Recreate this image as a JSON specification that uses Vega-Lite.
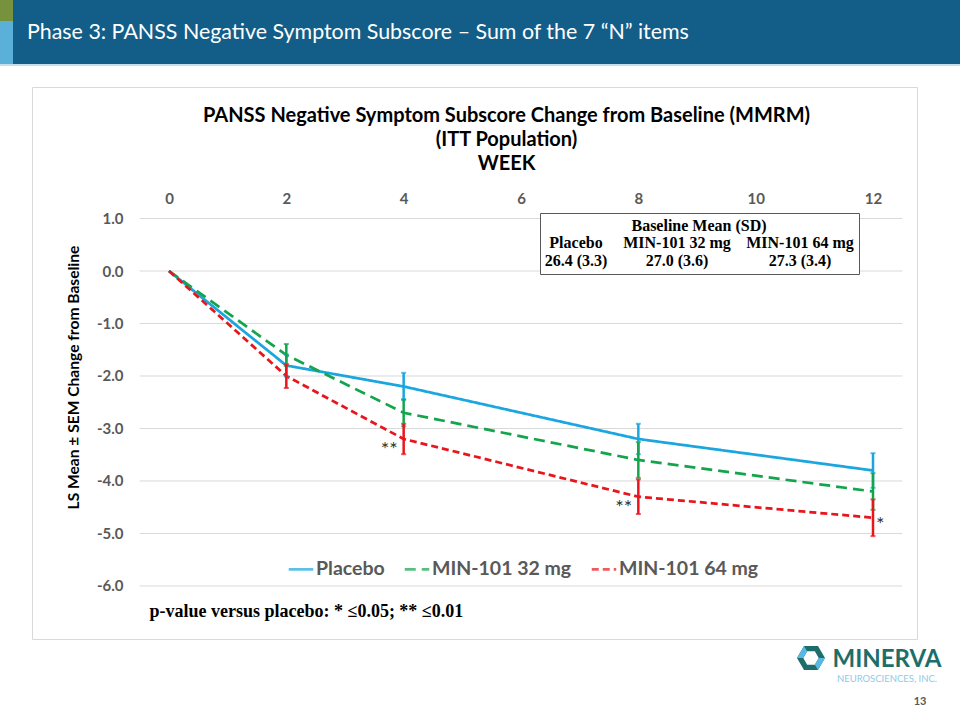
{
  "$schema": "https://vega.github.io/schema/vega-lite/v6.json",
  "background": "white",
  "padding": 0,
  "spacing": 0,
  "config": {"view": {"stroke": null}, "font": "Lato"},
  "datasets": {
    "series": [
      {"grp": "Placebo", "week": 0, "mean": 0, "sem": 0, "sig": ""},
      {"grp": "Placebo", "week": 2, "mean": -1.8, "sem": 0.21, "sig": ""},
      {"grp": "Placebo", "week": 4, "mean": -2.2, "sem": 0.26, "sig": ""},
      {"grp": "Placebo", "week": 8, "mean": -3.2, "sem": 0.29, "sig": ""},
      {"grp": "Placebo", "week": 12, "mean": -3.8, "sem": 0.33, "sig": ""},
      {"grp": "MIN-101 32 mg", "week": 0, "mean": 0, "sem": 0, "sig": ""},
      {"grp": "MIN-101 32 mg", "week": 2, "mean": -1.6, "sem": 0.21, "sig": ""},
      {"grp": "MIN-101 32 mg", "week": 4, "mean": -2.7, "sem": 0.26, "sig": ""},
      {"grp": "MIN-101 32 mg", "week": 8, "mean": -3.6, "sem": 0.34, "sig": ""},
      {"grp": "MIN-101 32 mg", "week": 12, "mean": -4.2, "sem": 0.35, "sig": ""},
      {"grp": "MIN-101 64 mg", "week": 0, "mean": 0, "sem": 0, "sig": ""},
      {"grp": "MIN-101 64 mg", "week": 2, "mean": -2.0, "sem": 0.23, "sig": ""},
      {"grp": "MIN-101 64 mg", "week": 4, "mean": -3.2, "sem": 0.29, "sig": "**"},
      {"grp": "MIN-101 64 mg", "week": 8, "mean": -4.3, "sem": 0.33, "sig": "**"},
      {"grp": "MIN-101 64 mg", "week": 12, "mean": -4.7, "sem": 0.35, "sig": "*"}
    ],
    "grid": [{"g": 1}, {"g": 0}, {"g": -1}, {"g": -2}, {"g": -3}, {"g": -4}, {"g": -5}, {"g": -6}],
    "table": [
      {"tbl": "Placebo|26.4 (3.3)"},
      {"tbl": "MIN-101 32 mg|27.0 (3.6)"},
      {"tbl": "MIN-101 64 mg|27.3 (3.4)"}
    ]
  },
  "vconcat": [
    {
      "spacing": 0,
      "hconcat": [
        {
          "spacing": 0,
          "vconcat": [
            {"width": 13, "height": 21, "data": {"values": []}, "mark": "point", "view": {"fill": "#76923c", "stroke": null}},
            {"width": 13, "height": 43, "data": {"values": []}, "mark": "point", "view": {"fill": "#5bb0da", "stroke": null}}
          ]
        },
        {
          "width": 947, "height": 64,
          "data": {"values": []},
          "mark": "point",
          "view": {"fill": "#135e88", "stroke": null},
          "title": {
            "text": "Phase 3: PANSS Negative Symptom Subscore – Sum of the 7 “N” items",
            "anchor": "start", "frame": "group", "dx": 14, "offset": -54,
            "baseline": "middle", "color": "white", "font": "Lato", "fontSize": 21.4, "fontWeight": "normal"
          }
        }
      ]
    },
    {"width": 960, "height": 2, "data": {"values": []}, "mark": "point", "view": {"fill": "#c5dfee", "stroke": null}},
    {"width": 960, "height": 20, "data": {"values": []}, "mark": "point"},
    {
      "spacing": 0,
      "hconcat": [
        {"width": 31, "height": 552, "data": {"values": []}, "mark": "point"},
        {
          "width": 885, "height": 552,
          "view": {"fill": "white", "stroke": "#d9d9d9", "strokeWidth": 1},
          "resolve": {"axis": {"x": "independent"}},
          "layer": [
            {
              "data": {"name": "grid"},
              "mark": {"type": "rule", "color": "#d9d9d9", "strokeWidth": 1},
              "encoding": {
                "x": {"datum": -0.5, "type": "quantitative", "scale": {"domain": [-2.335, 12.75], "nice": false, "zero": false}, "axis": null},
                "x2": {"datum": 12.5},
                "y": {
                  "field": "g", "type": "quantitative", "title": "LS Mean ± SEM Change from Baseline",
                  "scale": {"domain": [-7.01, 3.505], "nice": false, "zero": false},
                  "axis": {
                    "orient": "left", "offset": -91, "values": [1, 0, -1, -2, -3, -4, -5, -6],
                    "labelExpr": "replace(format(datum.value, '.1f'), '−', '-')",
                    "labelFont": "Lato", "labelFontSize": 15, "labelFontWeight": "bold", "labelColor": "#595959",
                    "labelPadding": 0, "ticks": false, "tickSize": 0, "domain": false, "grid": false,
                    "title": "LS Mean ± SEM Change from Baseline",
                    "titleX": -50, "titleY": 290, "titleAngle": -90, "titleAlign": "center", "titleBaseline": "middle",
                    "titleFont": "Lato", "titleFontSize": 15.6, "titleFontWeight": "bold", "titleColor": "black"
                  }
                }
              }
            },
            {
              "data": {"name": "series"},
              "mark": {"type": "line", "strokeWidth": 2.75},
              "encoding": {
                "x": {
                  "field": "week", "type": "quantitative",
                  "scale": {"domain": [-2.335, 12.75], "nice": false, "zero": false},
                  "axis": {
                    "orient": "top", "offset": -111, "values": [0, 2, 4, 6, 8, 10, 12],
                    "labelFont": "Lato", "labelFontSize": 15, "labelFontWeight": "bold", "labelColor": "#595959",
                    "labelPadding": 0, "labelBaseline": "middle", "labelFlush": false,
                    "ticks": false, "tickSize": 0, "domain": false, "grid": false,
                    "title": ["PANSS Negative Symptom Subscore Change from Baseline (MMRM)", "(ITT Population)", "WEEK"],
                    "titleX": 474, "titleY": -93, "titleAlign": "center", "titleBaseline": "top", "titleLineHeight": 24,
                    "titleFont": "Lato", "titleFontSize": 20, "titleFontWeight": "bold", "titleColor": "black"
                  }
                },
                "y": {"field": "mean", "type": "quantitative", "title": "LS Mean ± SEM Change from Baseline", "scale": {"domain": [-7.01, 3.505], "nice": false, "zero": false}},
                "color": {
                  "field": "grp", "type": "nominal",
                  "scale": {"domain": ["Placebo", "MIN-101 32 mg", "MIN-101 64 mg"], "range": ["#1ba6df", "#14a54c", "#e8161c"]},
                  "legend": {
                    "orient": "none", "legendX": 287, "legendY": 555, "direction": "horizontal", "title": null,
                    "symbolType": "stroke", "symbolSize": 600, "symbolStrokeWidth": 2.75,
                    "labelFont": "Lato", "labelFontSize": 19.5, "labelFontWeight": "bold", "labelColor": "#595959",
                    "labelOffset": 1, "columnPadding": 14, "padding": 0
                  }
                },
                "strokeDash": {
                  "field": "grp", "type": "nominal",
                  "scale": {"domain": ["Placebo", "MIN-101 32 mg", "MIN-101 64 mg"], "range": [[1, 0], [11, 6], [7, 4]]},
                  "legend": {
                    "orient": "none", "legendX": 287, "legendY": 555, "direction": "horizontal", "title": null,
                    "symbolType": "stroke", "symbolSize": 600, "symbolStrokeWidth": 2.75,
                    "labelFont": "Lato", "labelFontSize": 19.5, "labelFontWeight": "bold", "labelColor": "#595959",
                    "labelOffset": 1, "columnPadding": 14, "padding": 0
                  }
                }
              }
            },
            {
              "data": {"name": "series"},
              "transform": [{"filter": "datum.week > 0"}],
              "mark": {"type": "errorbar", "ticks": {"size": 5, "thickness": 2}, "thickness": 2.5},
              "encoding": {
                "x": {"field": "week", "type": "quantitative", "axis": null},
                "y": {"field": "mean", "type": "quantitative", "title": "LS Mean ± SEM Change from Baseline"},
                "yError": {"field": "sem"},
                "color": {"field": "grp", "type": "nominal"}
              }
            },
            {
              "data": {"name": "series"},
              "transform": [{"filter": "datum.sig == '**'"}],
              "mark": {"type": "text", "align": "right", "baseline": "middle", "dx": -6, "dy": 11, "fontSize": 20, "color": "#333333", "font": "Lato"},
              "encoding": {
                "x": {
                  "field": "week", "type": "quantitative",
                  "axis": {
                    "orient": "bottom", "labels": false, "ticks": false, "domain": false, "grid": false,
                    "title": "p-value versus placebo: * ≤0.05;  ** ≤0.01",
                    "titleX": 117, "titleY": -28, "titleAlign": "left", "titleBaseline": "middle",
                    "titleFont": "Liberation Serif", "titleFontSize": 18, "titleFontWeight": "bold", "titleColor": "black"
                  }
                },
                "y": {"field": "mean", "type": "quantitative", "title": "LS Mean ± SEM Change from Baseline"},
                "text": {"field": "sig"}
              }
            },
            {
              "data": {"name": "series"},
              "transform": [{"filter": "datum.sig == '*'"}],
              "mark": {"type": "text", "align": "left", "baseline": "middle", "dx": 3, "dy": 7, "fontSize": 20, "color": "#333333", "font": "Lato"},
              "encoding": {
                "x": {"field": "week", "type": "quantitative", "axis": null},
                "y": {"field": "mean", "type": "quantitative", "title": "LS Mean ± SEM Change from Baseline"},
                "text": {"field": "sig"}
              }
            },
            {
              "data": {"name": "table"},
              "mark": {"type": "point", "opacity": 0},
              "encoding": {
                "shape": {
                  "field": "tbl", "type": "nominal", "sort": null,
                  "legend": {
                    "orient": "none", "legendX": 540, "legendY": 213,
                    "title": "Baseline Mean (SD)", "titleFont": "Liberation Serif", "titleFontSize": 16, "titleFontWeight": "bold",
                    "titleColor": "black", "titleAnchor": "middle", "titlePadding": 1,
                    "direction": "horizontal", "columns": 3,
                    "symbolSize": 0, "symbolOpacity": 0, "symbolStrokeWidth": 0,
                    "labelExpr": "split(datum.label, '|')",
                    "labelFont": "Liberation Serif", "labelFontSize": 16, "labelFontWeight": "bold", "labelColor": "black",
                    "labelAlign": "center", "labelOffset": 15, "labelLimit": 0,
                    "columnPadding": 15, "padding": 5, "strokeColor": "#595959", "fillColor": "white"
                  }
                }
              }
            }
          ]
        }
      ]
    },
    {
      "spacing": 0,
      "hconcat": [
        {"width": 797, "height": 82, "data": {"values": []}, "mark": "point"},
        {
          "width": 28, "height": 36,
          "data": {"values": [{}]},
          "layer": [
            {"mark": {"type": "point", "shape": "M-1,0L-0.5,-0.866L0.5,-0.866L1,0L0.5,0.866L-0.5,0.866Z M-0.55,0L-0.275,0.476L0.275,0.476L0.55,0L0.275,-0.476L-0.275,-0.476Z", "size": 784, "filled": true, "fill": "#1d6e6b", "opacity": 1, "strokeWidth": 0}},
            {"mark": {"type": "point", "shape": "M-1,0L-0.5,-0.866L-0.275,-0.476L-0.55,0Z M1,0L0.5,0.866L0.275,0.476L0.55,0Z", "size": 784, "filled": true, "fill": "#5bb8e4", "opacity": 1, "strokeWidth": 0}}
          ]
        },
        {"width": 7, "height": 1, "data": {"values": []}, "mark": "point"},
        {
          "width": 110, "height": 82,
          "data": {"values": [{}]},
          "layer": [
            {"mark": {"type": "text", "text": "MINERVA", "font": "Lato", "fontSize": 24, "fontWeight": "bold", "color": "#1d6e6b", "dy": -21}},
            {"mark": {"type": "text", "text": "NEUROSCIENCES, INC.", "font": "Lato", "fontSize": 9.5, "color": "#8ccbe8", "dy": -2}},
            {"mark": {"type": "text", "text": "13", "font": "Lato", "fontSize": 11, "fontWeight": "bold", "color": "#595959", "dx": 33, "dy": 21}}
          ]
        }
      ]
    }
  ]
}
